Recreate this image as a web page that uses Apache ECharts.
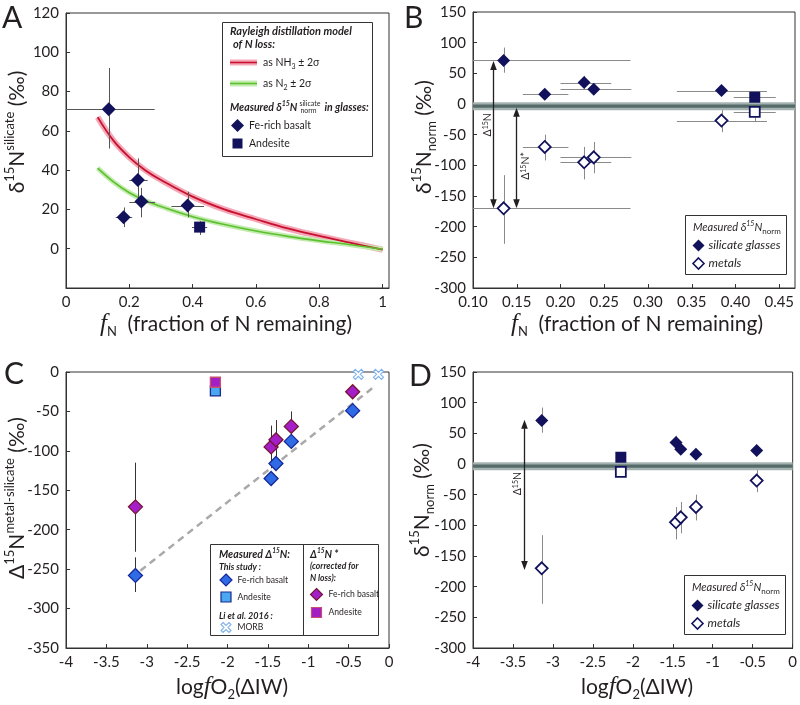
<!DOCTYPE html>
<html><head><meta charset="utf-8">
<script src="https://cdn.jsdelivr.net/npm/echarts@6/dist/echarts.min.js"></script>
<style>html,body{margin:0;padding:0;background:#fff}#c{width:800px;height:705px}</style>
</head><body><div id="c"></div><script>
// ---------------- data ----------------
const fN = [0.135, 0.182, 0.227, 0.238, 0.384];
const fN_errLo = [0.0, 0.157, 0.200, 0.200, 0.333];
const fN_errHi = [0.280, 0.209, 0.258, 0.281, 0.436];
const fN_andesite = [0.422];
const fN_andesite_errLo = [0.398];
const fN_andesite_errHi = [0.446];
const logfO2 = [-3.14, -1.21, -1.46, -1.40, -0.45];
const logfO2_andesite = [-2.15];
const d15N_silicate = [71, 16, 35, 24, 22];
const d15N_silicate_errLo = [51, 11, 25, 16, 16];
const d15N_silicate_errHi = [92, 21, 46, 31, 29];
const d15N_silicate_andesite = [11];
const d15N_silicate_andesite_errLo = [7];
const d15N_silicate_andesite_errHi = [14];
const d15N_metal = [-170, -70, -95, -87, -27];
const d15N_metal_errLo = [-228, -92, -123, -113, -46];
const d15N_metal_errHi = [-116, -50, -70, -62, -10];
const d15N_metal_andesite = [-13];
const d15N_metal_andesite_errLo = [-29];
const d15N_metal_andesite_errHi = [-4];
const D15N_measured = [-258, -88, -135, -116, -49];
const D15N_measured_errLo = [-279, null, null, null, null];
const D15N_measured_errHi = [-235, null, null, null, null];
const D15N_measured_andesite = [-24];
const D15N_corrected = [-171, -69, -95, -86, -25];
const D15N_corrected_errLo = [-228, -90, -122, -112, null];
const D15N_corrected_errHi = [-115, -50, -68, -61, null];
const D15N_corrected_andesite = [-13];
const morb_logfO2 = [-0.38, -0.13];
const morb_D15N = [-3, -3];
const trend_logfO2 = [-3.08, -0.2];
const trend_D15N = [-252, -20];
const model_fN = [0.1, 0.15, 0.2, 0.25, 0.3, 0.4, 0.5, 0.6, 0.7, 0.8, 0.9, 1.0];
const model_NH3 = [67, 55, 46.5, 40, 35, 26.5, 20, 15, 10.3, 6.5, 3, -0.5];
const model_N2 = [41, 34, 28.5, 24.5, 21.5, 16.3, 12.3, 9, 6.3, 4, 2, -0.3];
const zeroBand = [-10, 3];
const zeroCore = [-6, -1];
const arrowB_x = [0.123, 0.149];
const arrowB_top = [70, -6];
const arrowB_bot = [-170, -170];
const arrowB_labelY = [-34, -101];
const arrowB_label = ['Δ{s|15}N', 'Δ{s|15}N*'];
const arrowD_x = [-3.358];
const arrowD_top = [72];
const arrowD_bot = [-173];
const arrowD_labelY = [-32];
const arrowD_label = ['Δ{s|15}N'];

// ---------------- styles ----------------
const FONT = "Lato, 'Open Sans', sans-serif";
const NAVY = '#12125c';
const TXT = '#231f20';
const TICK = 15;

const zip = (a, b) => a.map((v, i) => [v, b[i]]);
const rows = (xs, ys, xl, xh, yl, yh) => xs.map((x, i) => [x, ys[i],
  xl ? xl[i] : null, xh ? xh[i] : null, yl ? yl[i] : null, yh ? yh[i] : null]);

function errRender(color, width) {
  return function (params, api) {
    const cs = params.coordSys;
    const y = api.value(1), x = api.value(0);
    const xl = api.value(2), xh = api.value(3), yl = api.value(4), yh = api.value(5);
    const ch = [];
    const clampX = v => Math.max(cs.x, Math.min(cs.x + cs.width, v));
    if (isFinite(xl) && isFinite(xh)) {
      const a = api.coord([xl, y]), b = api.coord([xh, y]);
      ch.push({type: 'line', shape: {x1: clampX(a[0]), y1: Math.round(a[1]) + 0.5, x2: clampX(b[0]), y2: Math.round(b[1]) + 0.5},
        style: {stroke: color, lineWidth: width}});
    }
    if (isFinite(yl) && isFinite(yh)) {
      const a = api.coord([x, yl]), b = api.coord([x, yh]);
      ch.push({type: 'line', shape: {x1: Math.round(a[0]) + 0.5, y1: a[1], x2: Math.round(b[0]) + 0.5, y2: b[1]},
        style: {stroke: color, lineWidth: width}});
    }
    return {type: 'group', children: ch};
  };
}

function bandRender(params, api) {
  const cs = params.coordSys;
  const a = api.coord([api.value(0), api.value(1)]);
  const b = api.coord([api.value(0), api.value(2)]);
  return {type: 'rect', shape: {x: cs.x, y: b[1], width: cs.width, height: a[1] - b[1]},
    style: {fill: api.value(3) ? '#556b69' : '#a4b3b1'}};
}

function arrowRender(labels, offs) {
  return function (params, api) {
    const i = params.dataIndex;
    const t = api.coord([api.value(0), api.value(1)]);
    const b = api.coord([api.value(0), api.value(2)]);
    const l = api.coord([api.value(0), api.value(3)]);
    const x = Math.round(t[0]) + 0.5, ah = 9, aw = 3.3;
    return {type: 'group', children: [
      {type: 'line', shape: {x1: x, y1: t[1] + ah - 1, x2: x, y2: b[1] - ah + 1}, style: {stroke: '#231f20', lineWidth: 1.3}},
      {type: 'polygon', shape: {points: [[x, t[1]], [x - aw, t[1] + ah], [x + aw, t[1] + ah]]}, style: {fill: '#231f20'}},
      {type: 'polygon', shape: {points: [[x, b[1]], [x - aw, b[1] - ah], [x + aw, b[1] - ah]]}, style: {fill: '#231f20'}},
      {type: 'text', x: x + offs[i], y: l[1], rotation: Math.PI / 2,
        style: {text: labels[i], fill: TXT, fontFamily: FONT, fontSize: 10.5, align: 'center', verticalAlign: 'middle',
          rich: {s: {fontFamily: FONT, fontSize: 7, verticalAlign: 'top', lineHeight: 8, fill: TXT}}}}
    ]};
  };
}

const axLabel = {color: TXT, fontSize: TICK, fontFamily: FONT, margin: 7};
function ax(gi, min, max, interval, label) {
  return {type: 'value', gridIndex: gi, min, max, interval,
    axisLine: {show: true, onZero: false, lineStyle: {color: '#333', width: 1}},
    axisTick: {show: true, inside: true, length: 4, lineStyle: {color: '#333'}},
    splitLine: {show: false},
    axisLabel: Object.assign({}, axLabel, label || {})};
}

// ------------- graphic helpers -------------
const ctx = document.createElement('canvas').getContext('2d');
function mw(font, s) { ctx.font = font; return ctx.measureText(s).width; }
function T(x, y, text, o) {
  o = o || {};
  return {type: 'text', x, y, rotation: o.rot || 0, silent: true, z: 100,
    style: {text, fill: TXT, fontFamily: o.family || FONT, fontSize: o.size || 11,
      fontStyle: o.style || 'normal', fontWeight: o.weight || 'normal',
      align: o.align || 'left', verticalAlign: 'middle', lineHeight: o.lh, rich: o.rich}};
}
function box(x, y, w, h) {
  return {type: 'rect', z: 99, silent: true, shape: {x, y, width: w, height: h}, style: {fill: '#fff', stroke: '#333', lineWidth: 1}};
}
function L(x1, y1, x2, y2, stroke, lw) {
  return {type: 'line', z: 100, silent: true, shape: {x1, y1, x2, y2}, style: {stroke, lineWidth: lw}};
}
function dia(cx, cy, s, fill, stroke, lw) {
  return {type: 'polygon', z: 100, silent: true, shape: {points: [[cx, cy - s / 2], [cx + s / 2, cy], [cx, cy + s / 2], [cx - s / 2, cy]]},
    style: {fill, stroke: stroke || null, lineWidth: lw || 0}};
}
function sq(cx, cy, s, fill, stroke, lw) {
  return {type: 'rect', z: 100, silent: true, shape: {x: cx - s / 2, y: cy - s / 2, width: s, height: s},
    style: {fill, stroke: stroke || null, lineWidth: lw || 0}};
}
const CROSS = [[2, 0], [5, 3], [8, 0], [10, 2], [7, 5], [10, 8], [8, 10], [5, 7], [2, 10], [0, 8], [3, 5], [0, 2]];
const MORB_PATH = 'path://M2,0 L5,3 L8,0 L10,2 L7,5 L10,8 L8,10 L5,7 L2,10 L0,8 L3,5 L0,2 Z';

function richT(size) {
  return {
    s: {fontFamily: FONT, fontSize: Math.round(size * 0.64), lineHeight: Math.round(size * 0.64), verticalAlign: 'top', fill: TXT},
    b: {fontFamily: FONT, fontSize: Math.round(size * 0.64), lineHeight: Math.round(size * 0.64), verticalAlign: 'bottom', fill: TXT},
    f: {fontFamily: "'Liberation Serif', serif", fontStyle: 'italic', fontSize: Math.round(size * 1.2), fill: TXT}
  };
}
const supBI = (fs) => ({fontFamily: FONT, fontSize: fs, fontStyle: 'italic', fontWeight: 'bold', verticalAlign: 'top', lineHeight: fs + 1, fill: TXT});
const TS = 21;

const G = [];
// panel letters
G.push(T(2, 18, 'A', {size: 30}), T(404, 18, 'B', {size: 30}), T(4, 374, 'C', {size: 30}), T(409, 376, 'D', {size: 30}));
// y titles
G.push(T(17, 132, 'δ{s|15}N{s|silicate} (‰)', {size: TS, rot: Math.PI / 2, align: 'center', lh: 28, rich: richT(TS)}));
G.push(T(424, 137, 'δ{s|15}N{b|norm} (‰)', {size: TS, rot: Math.PI / 2, align: 'center', lh: 28, rich: richT(TS)}));
G.push(T(17, 498, 'Δ{s|15}N{s|metal-silicate} (‰)', {size: TS, rot: Math.PI / 2, align: 'center', lh: 28, rich: richT(TS)}));
G.push(T(422, 500, 'δ{s|15}N{b|norm} (‰)', {size: TS, rot: Math.PI / 2, align: 'center', lh: 28, rich: richT(TS)}));
// x titles
G.push(T(226, 324, '{f|f}{b|N}  (fraction of N remaining)', {size: TS, align: 'center', lh: 28, rich: richT(TS)}));
G.push(T(637, 324, '{f|f}{b|N}  (fraction of N remaining)', {size: TS, align: 'center', lh: 28, rich: richT(TS)}));
G.push(T(232, 687, 'log{f|f}O{b|2}(ΔIW)', {size: TS, align: 'center', lh: 28, rich: richT(TS)}));
G.push(T(637, 687, 'log{f|f}O{b|2}(ΔIW)', {size: TS, align: 'center', lh: 28, rich: richT(TS)}));

// legend A
const BI = {style: 'italic', weight: 'bold'};
const subR = {fontFamily: FONT, fontSize: 7, verticalAlign: 'bottom', lineHeight: 8, fill: TXT};
G.push(box(222.5, 22.5, 150, 134));
G.push(T(230, 31.5, 'Rayleigh distillation model', Object.assign({size: 11}, BI)));
G.push(T(233, 44.5, 'of N loss:', Object.assign({size: 11}, BI)));
G.push({type: 'rect', z: 100, silent: true, shape: {x: 230, y: 59.5, width: 27, height: 6}, style: {fill: '#f4a7b7'}});
G.push(L(230, 62.5, 257, 62.5, '#c8102e', 1.6));
G.push(T(263, 62.5, 'as NH{b|3} ± 2σ', {size: 10.5, rich: {b: subR}, lh: 15}));
G.push({type: 'rect', z: 100, silent: true, shape: {x: 230, y: 80.5, width: 27, height: 6}, style: {fill: '#c4ebb0'}});
G.push(L(230, 83.5, 257, 83.5, '#5cc12e', 1.6));
G.push(T(263, 83.5, 'as N{b|2} ± 2σ', {size: 10.5, rich: {b: subR}, lh: 15}));
(function () {
  const f11 = 'italic bold 10.5px ' + FONT, f7 = 'italic bold 7px ' + FONT;
  const w1 = mw(f11, 'Measured δ') + mw(f7, '15') + mw(f11, 'N');
  G.push(T(230, 107.5, 'Measured δ{s|15}N', Object.assign({size: 10.5, lh: 15, rich: {s: supBI(7)}}, BI)));
  const xs = 230 + w1 + 2;
  G.push(T(xs, 104, 'silicate', {size: 7}), T(xs + 1, 111, 'norm', {size: 7}));
  const ws = mw('7px ' + FONT, 'silicate');
  G.push(T(xs + ws + 4, 107.5, 'in glasses:', Object.assign({size: 10.5}, BI)));
})();
G.push(dia(237.5, 125.5, 13, NAVY));
G.push(T(249, 125.5, 'Fe-rich basalt', {size: 10.5}));
G.push(sq(237.5, 143.5, 10, NAVY));
G.push(T(249, 143.5, 'Andesite', {size: 10.5}));

// legend B & D
function legBD(x0, y0) {
  G.push(box(x0 + 0.5, y0 + 0.5, 101, 59));
  G.push(T(x0 + 8, y0 + 12.5, 'Measured δ{s|15}N{b|norm}', {size: 11, style: 'italic', lh: 15,
    rich: {s: {fontFamily: FONT, fontSize: 7, fontStyle: 'italic', verticalAlign: 'top', lineHeight: 8, fill: TXT},
      b: {fontFamily: FONT, fontSize: 8, verticalAlign: 'bottom', lineHeight: 11, fill: TXT}}}));
  G.push(dia(x0 + 13.5, y0 + 30.5, 12, NAVY));
  G.push(T(x0 + 23.5, y0 + 30.5, 'silicate glasses', {size: 12, style: 'italic'}));
  G.push(dia(x0 + 13.5, y0 + 48.5, 11, '#fff', NAVY, 1.6));
  G.push(T(x0 + 23.5, y0 + 48.5, 'metals', {size: 12, style: 'italic'}));
}
legBD(685, 215);
legBD(684, 575);

// legend C
G.push(box(210.5, 544.5, 168, 91));
G.push(L(303.5, 544.5, 303.5, 635.5, '#333', 1));
G.push(T(219, 555, 'Measured Δ{s|15}N:', Object.assign({size: 10.5, lh: 15, rich: {s: supBI(6.5)}}, BI)));
G.push(T(219, 567.5, 'This study :', Object.assign({size: 8.8}, BI)));
G.push(dia(226, 580, 12, '#2f6be4', '#17299a', 1.2));
G.push(T(237.5, 580, 'Fe-rich basalt', {size: 8.6}));
G.push(sq(226, 597, 10, '#4aa7f2', '#1a2c8c', 1.2));
G.push(T(237.5, 597, 'Andesite', {size: 8.6}));
G.push(T(219, 616.5, 'Li et al. 2016 :', Object.assign({size: 9}, BI)));
G.push({type: 'polygon', z: 100, silent: true, shape: {points: CROSS.map(p => [221 + p[0], 622.5 + p[1]])},
  style: {fill: '#fff', stroke: '#7fb2ea', lineWidth: 1.1}});
G.push(T(237.5, 627.5, 'MORB', {size: 8.6}));
G.push(T(310, 555, 'Δ{s|15}N *', Object.assign({size: 10.5, lh: 15, rich: {s: supBI(6.5)}}, BI)));
G.push(T(310, 566.5, '(corrected for', Object.assign({size: 8.6}, BI)));
G.push(T(310, 578.5, 'N loss):', Object.assign({size: 8.6}, BI)));
G.push(dia(316.5, 594.5, 12, '#a51fc9', '#741534', 1.2));
G.push(T(328.5, 594.5, 'Fe-rich basalt', {size: 8.6}));
G.push(sq(316.5, 612.5, 10, '#a31fc4', '#c5506f', 1.2));
G.push(T(328.5, 612.5, 'Andesite', {size: 8.6}));

// ---------------- option ----------------
const lineBase = {type: 'line', smooth: 0.4, showSymbol: false, silent: true, animation: false};
const option = {
  animation: false,
  backgroundColor: '#fff',
  grid: [
    {left: 66, top: 13, width: 323, height: 275, show: true, borderColor: '#333', borderWidth: 1},
    {left: 473, top: 12, width: 322, height: 276, show: true, borderColor: '#333', borderWidth: 1},
    {left: 66, top: 372, width: 323, height: 276, show: true, borderColor: '#333', borderWidth: 1},
    {left: 473, top: 372, width: 321, height: 276, show: true, borderColor: '#333', borderWidth: 1}
  ],
  xAxis: [
    ax(0, 0, 1.02, 0.2, {showMaxLabel: false}),
    ax(1, 0.1, 0.468, 0.05, {showMaxLabel: false, formatter: v => v.toFixed(2)}),
    ax(2, -4, 0, 0.5),
    ax(3, -4, 0, 0.5)
  ],
  yAxis: [
    ax(0, -20, 120, 20, {showMinLabel: false}),
    ax(1, -300, 150, 50),
    ax(2, -350, 0, 50),
    ax(3, -300, 150, 50)
  ],
  graphic: G,
  series: [
    // ---- A ----
    Object.assign({}, lineBase, {xAxisIndex: 0, yAxisIndex: 0, z: 1, data: zip(model_fN, model_NH3), lineStyle: {color: '#f4a7b7', width: 6}}),
    Object.assign({}, lineBase, {xAxisIndex: 0, yAxisIndex: 0, z: 2, data: zip(model_fN, model_NH3), lineStyle: {color: '#c8102e', width: 1.8}}),
    Object.assign({}, lineBase, {xAxisIndex: 0, yAxisIndex: 0, z: 1, data: zip(model_fN, model_N2), lineStyle: {color: '#c4ebb0', width: 5}}),
    Object.assign({}, lineBase, {xAxisIndex: 0, yAxisIndex: 0, z: 2, data: zip(model_fN, model_N2), lineStyle: {color: '#5cc12e', width: 1.6}}),
    {type: 'custom', xAxisIndex: 0, yAxisIndex: 0, z: 3, silent: true, renderItem: errRender('#555', 1), encode: {x: 0, y: 1},
      data: rows(fN, d15N_silicate, fN_errLo, fN_errHi, d15N_silicate_errLo, d15N_silicate_errHi)
        .concat(rows(fN_andesite, d15N_silicate_andesite, fN_andesite_errLo, fN_andesite_errHi, d15N_silicate_andesite_errLo, d15N_silicate_andesite_errHi))},
    {type: 'scatter', xAxisIndex: 0, yAxisIndex: 0, z: 4, symbol: 'diamond', symbolSize: 14, itemStyle: {color: NAVY, opacity: 1}, data: zip(fN, d15N_silicate)},
    {type: 'scatter', xAxisIndex: 0, yAxisIndex: 0, z: 4, symbol: 'rect', symbolSize: 11, itemStyle: {color: NAVY, opacity: 1}, data: zip(fN_andesite, d15N_silicate_andesite)},
    // ---- B ----
    {type: 'custom', xAxisIndex: 1, yAxisIndex: 1, z: 1, silent: true, renderItem: bandRender, encode: {x: 0, y: 1},
      data: [[0.2, zeroBand[0], zeroBand[1], 0], [0.2, zeroCore[0], zeroCore[1], 1]]},
    {type: 'custom', xAxisIndex: 1, yAxisIndex: 1, z: 2, silent: true, renderItem: errRender('#8a8a8a', 1), encode: {x: 0, y: 1},
      data: rows(fN, d15N_silicate, fN_errLo, fN_errHi, d15N_silicate_errLo, d15N_silicate_errHi)
        .concat(rows(fN_andesite, d15N_silicate_andesite, fN_andesite_errLo, fN_andesite_errHi, d15N_silicate_andesite_errLo, d15N_silicate_andesite_errHi))
        .concat(rows(fN, d15N_metal, fN_errLo, fN_errHi, d15N_metal_errLo, d15N_metal_errHi))
        .concat(rows(fN_andesite, d15N_metal_andesite, fN_andesite_errLo, fN_andesite_errHi, d15N_metal_andesite_errLo, d15N_metal_andesite_errHi))},
    {type: 'custom', xAxisIndex: 1, yAxisIndex: 1, z: 3, silent: true, renderItem: arrowRender(arrowB_label, [-6, 9]), encode: {x: 0, y: 1},
      data: arrowB_x.map((x, i) => [x, arrowB_top[i], arrowB_bot[i], arrowB_labelY[i]])},
    {type: 'scatter', xAxisIndex: 1, yAxisIndex: 1, z: 4, symbol: 'diamond', symbolSize: 13, itemStyle: {color: NAVY, opacity: 1}, data: zip(fN, d15N_silicate)},
    {type: 'scatter', xAxisIndex: 1, yAxisIndex: 1, z: 4, symbol: 'rect', symbolSize: 11, itemStyle: {color: NAVY, opacity: 1}, data: zip(fN_andesite, d15N_silicate_andesite)},
    {type: 'scatter', xAxisIndex: 1, yAxisIndex: 1, z: 4, symbol: 'diamond', symbolSize: 12, itemStyle: {color: '#fff', borderColor: NAVY, borderWidth: 1.8, opacity: 1}, data: zip(fN, d15N_metal)},
    {type: 'scatter', xAxisIndex: 1, yAxisIndex: 1, z: 4, symbol: 'rect', symbolSize: 10, itemStyle: {color: '#fff', borderColor: NAVY, borderWidth: 1.8, opacity: 1}, data: zip(fN_andesite, d15N_metal_andesite)},
    // ---- C ----
    {type: 'line', xAxisIndex: 2, yAxisIndex: 2, z: 1, showSymbol: false, silent: true, data: zip(trend_logfO2, trend_D15N), lineStyle: {color: '#a9a9a9', width: 2.5, type: [7, 5]}},
    {type: 'custom', xAxisIndex: 2, yAxisIndex: 2, z: 2, silent: true, renderItem: errRender('#333', 1), encode: {x: 0, y: 1},
      data: rows(logfO2, D15N_corrected, null, null, D15N_corrected_errLo, D15N_corrected_errHi)
        .concat(rows(logfO2, D15N_measured, null, null, D15N_measured_errLo, D15N_measured_errHi))},
    {type: 'scatter', xAxisIndex: 2, yAxisIndex: 2, z: 4, symbol: 'diamond', symbolSize: 14, itemStyle: {color: '#2f6be4', borderColor: '#17299a', borderWidth: 1.3, opacity: 1}, data: zip(logfO2, D15N_measured)},
    {type: 'scatter', xAxisIndex: 2, yAxisIndex: 2, z: 4, symbol: 'rect', symbolSize: 10, itemStyle: {color: '#4aa7f2', borderColor: '#1a2c8c', borderWidth: 1.3, opacity: 1}, data: zip(logfO2_andesite, D15N_measured_andesite)},
    {type: 'scatter', xAxisIndex: 2, yAxisIndex: 2, z: 5, symbol: 'diamond', symbolSize: 14, itemStyle: {color: '#a51fc9', borderColor: '#741534', borderWidth: 1.3, opacity: 1}, data: zip(logfO2, D15N_corrected)},
    {type: 'scatter', xAxisIndex: 2, yAxisIndex: 2, z: 5, symbol: 'rect', symbolSize: 10, itemStyle: {color: '#a31fc4', borderColor: '#c5506f', borderWidth: 1.3, opacity: 1}, data: zip(logfO2_andesite, D15N_corrected_andesite)},
    {type: 'scatter', xAxisIndex: 2, yAxisIndex: 2, z: 5, symbol: MORB_PATH, symbolSize: 10, itemStyle: {color: '#fff', borderColor: '#7fb2ea', borderWidth: 1.1, opacity: 1}, data: zip(morb_logfO2, morb_D15N)},
    // ---- D ----
    {type: 'custom', xAxisIndex: 3, yAxisIndex: 3, z: 1, silent: true, renderItem: bandRender, encode: {x: 0, y: 1},
      data: [[-2, zeroBand[0], zeroBand[1], 0], [-2, zeroCore[0], zeroCore[1], 1]]},
    {type: 'custom', xAxisIndex: 3, yAxisIndex: 3, z: 2, silent: true, renderItem: errRender('#8a8a8a', 1), encode: {x: 0, y: 1},
      data: rows(logfO2, d15N_silicate, null, null, d15N_silicate_errLo, d15N_silicate_errHi)
        .concat(rows(logfO2, d15N_metal, null, null, d15N_metal_errLo, d15N_metal_errHi))},
    {type: 'custom', xAxisIndex: 3, yAxisIndex: 3, z: 3, silent: true, renderItem: arrowRender(arrowD_label, [-7]), encode: {x: 0, y: 1},
      data: arrowD_x.map((x, i) => [x, arrowD_top[i], arrowD_bot[i], arrowD_labelY[i]])},
    {type: 'scatter', xAxisIndex: 3, yAxisIndex: 3, z: 4, symbol: 'diamond', symbolSize: 13, itemStyle: {color: NAVY, opacity: 1}, data: zip(logfO2, d15N_silicate)},
    {type: 'scatter', xAxisIndex: 3, yAxisIndex: 3, z: 4, symbol: 'rect', symbolSize: 11, itemStyle: {color: NAVY, opacity: 1}, data: zip(logfO2_andesite, d15N_silicate_andesite)},
    {type: 'scatter', xAxisIndex: 3, yAxisIndex: 3, z: 4, symbol: 'diamond', symbolSize: 12, itemStyle: {color: '#fff', borderColor: NAVY, borderWidth: 1.8, opacity: 1}, data: zip(logfO2, d15N_metal)},
    {type: 'scatter', xAxisIndex: 3, yAxisIndex: 3, z: 4, symbol: 'rect', symbolSize: 10, itemStyle: {color: '#fff', borderColor: NAVY, borderWidth: 1.8, opacity: 1}, data: zip(logfO2_andesite, d15N_metal_andesite)}
  ]
};
const chart = echarts.init(document.getElementById('c'));
chart.setOption(option);
</script></body></html>
